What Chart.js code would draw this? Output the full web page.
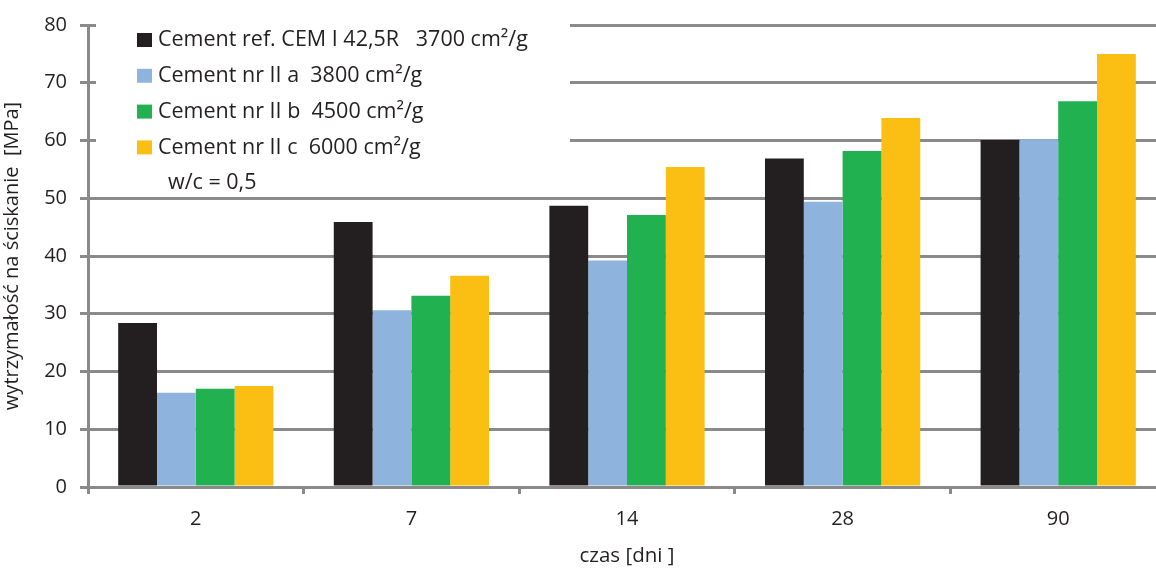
<!DOCTYPE html>
<html lang="pl">
<head>
<meta charset="UTF-8">
<title>wytrzymałość na ściskanie</title>
<script src="https://cdn.jsdelivr.net/npm/chart.js"></script>
<style>
  html, body { margin: 0; padding: 0; background: #fff; overflow: hidden; }
  #wrap { width: 1166px; height: 568px; }
</style>
</head>
<body>
<div id="wrap"><canvas id="chart" width="1166" height="568"></canvas></div>
<script>
// dane
const days = ['2', '7', '14', '28', '90'];
const cemRef = [28.4, 45.9, 48.7, 56.9, 60.1];
const cemIIa = [16.3, 30.6, 39.2, 49.4, 60.2];
const cemIIb = [17.0, 33.1, 47.1, 58.2, 66.8];
const cemIIc = [17.5, 36.6, 55.4, 63.9, 75.0];
const seriesNames = [
  'Cement ref. CEM I 42,5R   3700 cm²/g',
  'Cement nr II a  3800 cm²/g',
  'Cement nr II b  4500 cm²/g',
  'Cement nr II c  6000 cm²/g'
];
const colors = ['#231f20', '#8eb4de', '#21b151', '#fbbf13'];
const note = 'w/c = 0,5';

const FONT = "'Open Sans', 'Noto Sans', sans-serif";
const GRID = '#8a8a8a';
const INK = '#231f20';

// legenda rysowana w obszarze wykresu (jak w oryginale)
const boxLegend = {
  id: 'boxLegend',
  afterDraw(chart) {
    const c = chart.ctx;
    c.save();
    c.fillStyle = '#fff';
    c.fillRect(96, 19.5, 474, 172);
    c.font = '21.5px ' + FONT;
    c.textBaseline = 'middle';
    chart.data.datasets.forEach((ds, i) => {
      const y = 40 + i * 35.8;
      c.fillStyle = ds.backgroundColor;
      c.fillRect(137, y - 7, 15, 14);
      c.fillStyle = INK;
      c.fillText(ds.label, 158, y);
    });
    c.fillText(note, 168, 40 + 4 * 35.8);
    c.restore();
  }
};

new Chart(document.getElementById('chart'), {
  type: 'bar',
  data: {
    labels: days,
    datasets: [cemRef, cemIIa, cemIIb, cemIIc].map((d, i) => ({
      label: seriesNames[i],
      data: d,
      backgroundColor: colors[i],
      borderWidth: 0,
      categoryPercentage: 0.72,
      barPercentage: 1
    }))
  },
  options: {
    responsive: false,
    animation: false,
    layout: { padding: { top: 18, right: 0, left: 0, bottom: 0 } },
    plugins: { legend: { display: false }, tooltip: { enabled: false } },
    scales: {
      x: {
        offset: true,
        grid: { drawOnChartArea: false, drawTicks: true, tickLength: 7, color: GRID, lineWidth: 3, offset: true },
        border: { color: GRID, width: 3 },
        ticks: { color: INK, font: { family: FONT, size: 20 }, padding: 13 },
        title: { display: true, text: 'czas [dni ]', color: INK, font: { family: FONT, size: 20.5 }, padding: { top: 7, bottom: 0 } },
        afterFit(s) { s.height = 81; }
      },
      y: {
        min: 0, max: 80,
        ticks: { stepSize: 10, color: INK, font: { family: FONT, size: 20 }, padding: 13 },
        grid: { color: GRID, lineWidth: 3, tickLength: 8 },
        border: { color: GRID, width: 3 },
        title: { display: true, text: 'wytrzymałość na ściskanie  [MPa]', color: INK, font: { family: FONT, size: 20 }, padding: { top: 0, bottom: 0 } },
        afterFit(s) { s.width = 88; }
      }
    }
  },
  plugins: [boxLegend]
});
</script>
</body>
</html>
